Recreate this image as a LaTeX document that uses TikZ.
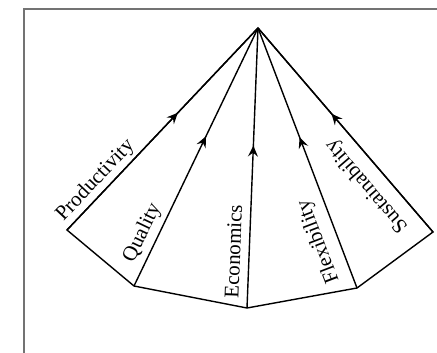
\documentclass[tikz,border=0pt]{standalone}
\usepackage{fontspec}
\setmainfont{Liberation Serif}
\usetikzlibrary{arrows.meta,decorations.markings}
\begin{document}
\begin{tikzpicture}[x=1pt,y=-1pt,
  edge/.style={line width=1.4pt, line join=miter},
  spoke/.style={edge, decoration={markings, mark=at position 0.58 with {\arrow{Stealth[length=11pt,width=10pt,inset=4pt]}}}, postaction={decorate}},
  lab/.style={sloped, allow upside down, font=\fontsize{21}{24}\selectfont, inner sep=1pt},
  frameline/.style={line width=1.4pt, draw=black!55}]
\useasboundingbox (0,0) rectangle (437,353);
\coordinate (A) at (258,28);
\coordinate (P1) at (67,230);
\coordinate (P2) at (134,286);
\coordinate (P3) at (247,308);
\coordinate (P4) at (357,288);
\coordinate (P5) at (433,232);
\coordinate (F1) at (24,353);
\coordinate (F2) at (24,9);
\coordinate (F3) at (437,9);
\draw[frameline] (F1) -- (F2) -- (F3);
\draw[edge] (A) -- (P1) -- (P2) -- (P3) -- (P4) -- (P5) -- cycle;
\draw[spoke] (P1) -- (A) node[lab, pos=0.2, above=2pt] (tP) {Productivity};
\draw[spoke] (P2) -- (A) node[lab, pos=0.18, above=4pt] (tQ) {Quality};
\draw[spoke] (P3) -- (A) node[lab, pos=0.2, above=7pt] (tE) {Economics};
\draw[spoke] (P4) -- (A) node[lab, pos=0.205, above=8pt] (tF) {Flexibility};
\draw[spoke] (P5) -- (A) node[lab, pos=0.29, above=9pt] (tS) {Sustainability};
\end{tikzpicture}
\end{document}
